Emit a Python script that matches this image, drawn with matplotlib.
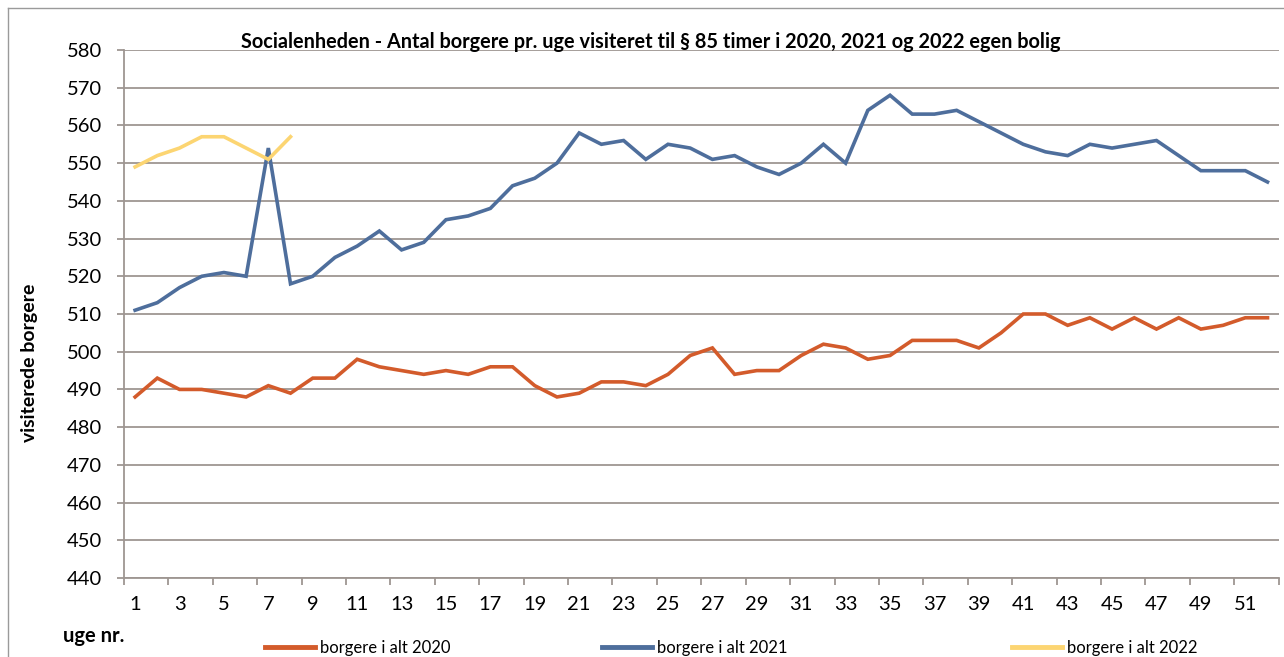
import matplotlib
matplotlib.use("Agg")
import matplotlib.pyplot as plt
from matplotlib.lines import Line2D

# ugenumre
weeks_2020 = list(range(1, 53))
weeks_2021 = list(range(1, 53))
weeks_2022 = list(range(1, 9))

borgere_2020 = [488, 493, 490, 490, 489, 488, 491, 489, 493, 493,
                498, 496, 495, 494, 495, 494, 496, 496, 491, 488,
                489, 492, 492, 491, 494, 499, 501, 494, 495, 495,
                499, 502, 501, 498, 499, 503, 503, 503, 501, 505,
                510, 510, 507, 509, 506, 509, 506, 509, 506, 507,
                509, 509]

borgere_2021 = [511, 513, 517, 520, 521, 520, 554, 518, 520, 525,
                528, 532, 527, 529, 535, 536, 538, 544, 546, 550,
                558, 555, 556, 551, 555, 554, 551, 552, 549, 547,
                550, 555, 550, 564, 568, 563, 563, 564, 561, 558,
                555, 553, 552, 555, 554, 555, 556, 552, 548, 548,
                548, 545]

borgere_2022 = [549, 552, 554, 557, 557, 554, 551, 557]

series_labels = ["borgere i alt 2020", "borgere i alt 2021", "borgere i alt 2022"]
series_colors = ["#D35B2B", "#4E6E9C", "#FCD572"]

title = "Socialenheden - Antal borgere pr. uge visiteret til § 85 timer i 2020, 2021 og 2022 egen bolig"
y_ticks = list(range(440, 590, 10))
x_ticklabels = list(range(1, 53, 2))

font = "Lato"
grid_color = "#9E9692"

fig = plt.figure(figsize=(12.84, 6.57), dpi=100)
ax = fig.add_axes([124 / 1284, 1 - 578 / 657, (1278.6 - 124) / 1284, (578 - 50) / 657])

ax.plot(weeks_2020, borgere_2020, color=series_colors[0], lw=2.6, solid_joinstyle="miter")
ax.plot(weeks_2021, borgere_2021, color=series_colors[1], lw=2.6, solid_joinstyle="miter")
ax.plot(weeks_2022, borgere_2022, color=series_colors[2], lw=2.6, solid_joinstyle="miter")

ax.set_xlim(0.5, 52.5)
ax.set_ylim(440, 580)
ax.set_yticks(y_ticks)
ax.set_yticklabels([str(v) for v in y_ticks], fontfamily=font, fontsize=14.5)
ax.yaxis.grid(True, color=grid_color, lw=1.3)
ax.set_axisbelow(True)

# kategoriakse: tick mellem kategorier, label paa hver anden uge
ax.set_xticks([w - 0.5 for w in x_ticklabels] + [52.5])
ax.set_xticklabels([])
ax.set_xticks(x_ticklabels, minor=True)
ax.set_xticklabels([str(w) for w in x_ticklabels], minor=True, fontfamily=font, fontsize=14.5)
ax.tick_params(axis="x", which="major", length=5, color=grid_color, width=1.3)
ax.tick_params(axis="x", which="minor", length=0, pad=13)
ax.tick_params(axis="y", length=5, color=grid_color, width=1.3, pad=11)

for side in ["top", "right"]:
    ax.spines[side].set_visible(False)
for side in ["left", "bottom"]:
    ax.spines[side].set_color(grid_color)
    ax.spines[side].set_linewidth(1.3)

fig.text(651 / 1284, 1 - 42 / 657, title, ha="center", va="center",
         fontfamily=font, fontweight="bold", fontsize=14.3)
fig.text(30 / 1284, 1 - 363 / 657, "visiterede borgere", rotation=90, ha="center", va="center",
         fontfamily=font, fontweight="bold", fontsize=14)
fig.text(63 / 1284, 1 - 636 / 657, "uge nr.", ha="left", va="center",
         fontfamily=font, fontweight="bold", fontsize=14.5)

# ramme om diagrammet (delvist synlig)
fig.add_artist(Line2D([8 / 1284, 1], [1 - 8 / 657, 1 - 8 / 657], transform=fig.transFigure,
                      color="#9A9A9A", lw=1))
fig.add_artist(Line2D([8 / 1284, 8 / 1284], [0, 1 - 8 / 657], transform=fig.transFigure,
                      color="#9A9A9A", lw=1))

legend_x = [258, 595, 1005]
for label, color, lx in zip(series_labels, series_colors, legend_x):
    h = Line2D([], [], color=color, lw=3.5)
    fig.legend([h], [label], loc="center left", bbox_to_anchor=(lx / 1284, 1 - 648 / 657),
               frameon=False, handlelength=3.0, handletextpad=0.3, borderaxespad=0,
               prop={"family": font, "size": 12})

fig.savefig("out.png", dpi=100)
